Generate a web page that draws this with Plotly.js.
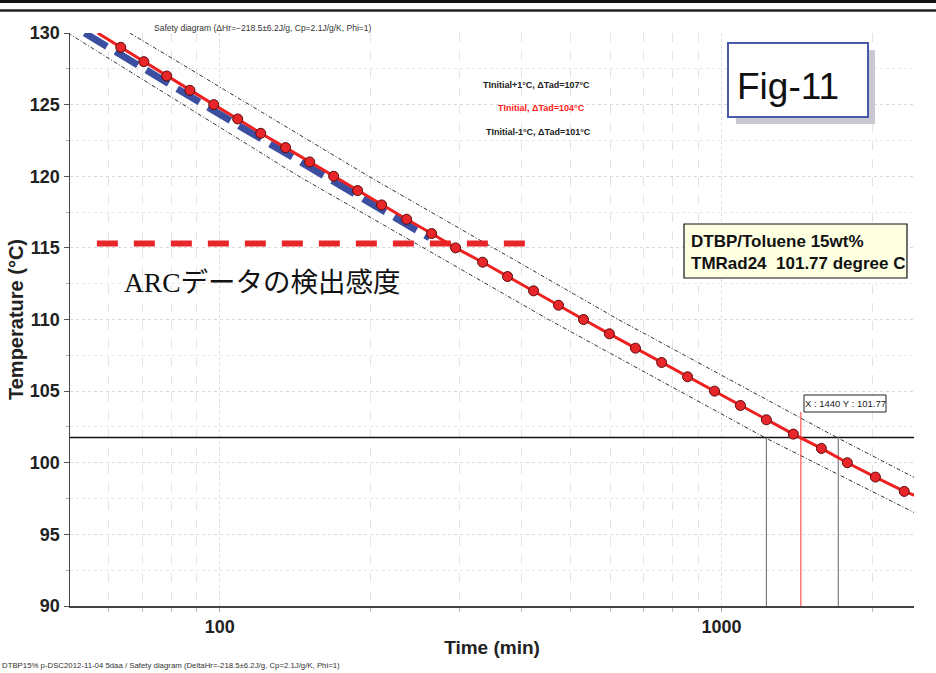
<!DOCTYPE html>
<html>
<head>
<meta charset="utf-8">
<script src="https://cdn.plot.ly/plotly-3.0.1.min.js"></script>
<style>html,body{margin:0;padding:0;background:#fff;}#chart{width:936px;height:673px;}</style>
</head>
<body>
<div id="chart"></div>
<script>
// ---- Data ----
const pointTemp = [129,128,127,126,125,124,123,122,121,120,119,118,117,116,115,114,113,112,111,110,109,108,107,106,105,104,103,102,101,100,99,98];
const pointTime = [63.5,70.6,78.4,87.2,97.3,108.6,120.7,135.3,151.1,168.7,188.3,210.2,235.8,264.5,295.2,334.2,374.7,422.2,473.4,531,598,674,760,856,969,1091,1229,1391,1582,1782,2027,2314];
const curveStartTime = [57.1];
const curveStartTemp = [130];
const curveEndTime = [2440];
const curveEndTemp = [97.7];

const upperTime = [66.2, 198, 623, 1697, 2430];
const upperTemp = [130, 120, 110, 101.77, 98.95];
const lowerTime = [49.8, 143.7, 452, 1218, 2430];
const lowerTemp = [130, 120, 110, 101.77, 96.5];

const blueTime = [53.8, 101.4, 262];
const blueTemp = [130, 124.2, 115.7];

const arcLimitTime = [56.9, 410];
const arcLimitTemp = [115.3, 115.3];

const tmrTemp = 101.77;
const tmrTime = 1440;
const lowBoundTime = 1229;
const highBoundTime = 1710;
const xRange = [50.3, 2420];
const yTicks = [90,95,100,105,110,115,120,125,130];
const xTicks = [100, 1000];
const xMinor = [60,70,80,90,200,300,400,500,600,700,800,900,2000];

// ---- helpers for paper coordinates ----
const L = 70, R = 914, T = 33, B = 606;
const px = x => (x - L) / (R - L);
const py = y => (B - y) / (B - T);

const traces = [
  {x: upperTime, y: upperTemp, mode: 'lines', line: {color: '#333', width: 1, dash: '4px,2px,1px,2px'}, hoverinfo: 'skip'},
  {x: lowerTime, y: lowerTemp, mode: 'lines', line: {color: '#333', width: 1, dash: '4px,2px,1px,2px'}, hoverinfo: 'skip'},
  {x: [xRange[0] * 0.9, xRange[1] * 1.1], y: [tmrTemp, tmrTemp], mode: 'lines', line: {color: '#111', width: 1.5}},
  {x: [lowBoundTime, lowBoundTime], y: [90, tmrTemp], mode: 'lines', line: {color: '#666', width: 1}},
  {x: [highBoundTime, highBoundTime], y: [90, tmrTemp], mode: 'lines', line: {color: '#888', width: 1.3}},
  {x: [tmrTime, tmrTime], y: [90, 103.55], mode: 'lines', line: {color: '#ff3030', width: 1}},
  {x: arcLimitTime, y: arcLimitTemp, mode: 'lines', line: {color: '#e8262a', width: 6, dash: '21px,16px'}},
  {x: blueTime, y: blueTemp, mode: 'lines', line: {color: '#3b4ea0', width: 7, dash: '26px,10px'}},
  {x: curveStartTime.concat(pointTime, curveEndTime), y: curveStartTemp.concat(pointTemp, curveEndTemp), mode: 'lines', line: {color: '#ee2020', width: 3}},
  {x: pointTime, y: pointTemp, mode: 'markers', marker: {color: '#e8262a', size: 10, line: {color: '#5a0a0a', width: 1}}}
];

const tickFont = {family: 'Liberation Sans, Arial, sans-serif', size: 18, color: '#222', weight: 'bold'};

const layout = {
  width: 936, height: 673,
  margin: {l: L, r: 936 - R, t: T, b: 673 - B},
  paper_bgcolor: '#fff', plot_bgcolor: '#fff',
  showlegend: false,
  xaxis: {
    type: 'log', range: [Math.log10(xRange[0]), Math.log10(xRange[1])],
    tickmode: 'array', tickvals: xTicks, ticktext: ['100', '1000'],
    ticks: 'outside', ticklen: 4, tickcolor: '#aaa',
    tickfont: tickFont,
    showline: true, linecolor: '#444', linewidth: 1.5,
    showgrid: true, gridcolor: '#dcdcdc', griddash: 'dot', gridwidth: 1,
    minor: {tickvals: xMinor, ticks: 'outside', ticklen: 4, tickcolor: '#bbb', showgrid: true, gridcolor: '#e4e4e4', griddash: 'dash', gridwidth: 1},
    zeroline: false,
    title: {text: 'Time (min)', font: {family: 'Liberation Sans, Arial, sans-serif', size: 19, color: '#222', weight: 'bold'}, standoff: 4},
    automargin: false
  },
  yaxis: {
    range: [90, 130],
    tickmode: 'array', tickvals: yTicks,
    ticks: 'outside', ticklen: 5, tickcolor: '#555',
    tickfont: tickFont,
    showline: true, linecolor: '#444', linewidth: 1.5,
    showgrid: true, gridcolor: '#d8d8d8', griddash: 'dot', gridwidth: 1,
    minor: {dtick: 2.5, tick0: 90, ticks: 'outside', ticklen: 3, tickcolor: '#aaa', showgrid: true, gridcolor: '#e8e8e8', gridwidth: 1},
    zeroline: false,
    title: {text: 'Temperature (°C)', font: {family: 'Liberation Sans, Arial, sans-serif', size: 20, color: '#222', weight: 'bold'}, standoff: 1},
    automargin: false
  },
  shapes: [
    // header rules
    {type: 'rect', xref: 'paper', yref: 'paper', x0: px(0), x1: px(936), y0: py(3), y1: py(0), fillcolor: '#111', line: {width: 0}},
    {type: 'line', xref: 'paper', yref: 'paper', x0: px(0), x1: px(936), y0: py(10.5), y1: py(10.5), line: {color: '#222', width: 2.5}},
    // Fig-11 box (shadow + box)
    {type: 'rect', xref: 'paper', yref: 'paper', x0: px(736), x1: px(875), y0: py(124), y1: py(50), fillcolor: '#c8c8d0', line: {width: 0}},
    {type: 'rect', xref: 'paper', yref: 'paper', x0: px(728), x1: px(868), y0: py(117), y1: py(43), fillcolor: '#ffffff', line: {color: '#4a58a8', width: 2}},
    // DTBP box
    {type: 'rect', xref: 'paper', yref: 'paper', x0: px(684), x1: px(907), y0: py(278), y1: py(224), fillcolor: '#ffffe2', line: {color: '#111', width: 1.2}},
    // X/Y readout box
    {type: 'rect', xref: 'paper', yref: 'paper', x0: px(804), x1: px(886), y0: py(412), y1: py(395), fillcolor: '#ffffff', line: {color: '#222', width: 1}}
  ],
  annotations: [
    {xref: 'paper', yref: 'paper', x: px(152), y: py(28), xanchor: 'left', yanchor: 'middle', showarrow: false,
     text: 'Safety diagram (ΔHr=−218.5±6.2J/g, Cp=2.1J/g/K, Phi=1)', font: {family: 'Liberation Sans Narrow, Liberation Sans, sans-serif', size: 8.5, color: '#333'}},
    {xref: 'paper', yref: 'paper', x: px(536), y: py(85), xanchor: 'center', yanchor: 'middle', showarrow: false,
     text: 'TInitial+1°C, ΔTad=107°C', font: {family: 'Liberation Sans Narrow, Liberation Sans, sans-serif', size: 9, color: '#222', weight: 'bold'}},
    {xref: 'paper', yref: 'paper', x: px(541), y: py(108), xanchor: 'center', yanchor: 'middle', showarrow: false,
     text: 'TInitial, ΔTad=104°C', font: {family: 'Liberation Sans Narrow, Liberation Sans, sans-serif', size: 9, color: '#ff2020', weight: 'bold'}},
    {xref: 'paper', yref: 'paper', x: px(538), y: py(132), xanchor: 'center', yanchor: 'middle', showarrow: false,
     text: 'TInitial-1°C, ΔTad=101°C', font: {family: 'Liberation Sans Narrow, Liberation Sans, sans-serif', size: 9, color: '#222', weight: 'bold'}},
    {xref: 'paper', yref: 'paper', x: px(788), y: py(86), xanchor: 'center', yanchor: 'middle', showarrow: false,
     text: 'Fig-11', font: {family: 'Liberation Sans, Arial, sans-serif', size: 37, color: '#111'}},
    {xref: 'paper', yref: 'paper', x: px(689), y: py(241), xanchor: 'left', yanchor: 'middle', showarrow: false,
     text: 'DTBP/Toluene 15wt%', font: {family: 'Liberation Sans, Arial, sans-serif', size: 17, color: '#111', weight: 'bold'}},
    {xref: 'paper', yref: 'paper', x: px(689), y: py(263), xanchor: 'left', yanchor: 'middle', showarrow: false,
     text: 'TMRad24  101.77 degree C', font: {family: 'Liberation Sans, Arial, sans-serif', size: 17, color: '#111', weight: 'bold'}},
    {xref: 'paper', yref: 'paper', x: px(845), y: py(403.5), xanchor: 'center', yanchor: 'middle', showarrow: false,
     text: 'X : 1440 Y : 101.77', font: {family: 'Liberation Sans Narrow, Liberation Sans, sans-serif', size: 9.5, color: '#222'}},
    {xref: 'paper', yref: 'paper', x: px(122), y: py(282), xanchor: 'left', yanchor: 'middle', showarrow: false,
     text: 'ARCデータの検出感度', font: {family: 'Liberation Serif, Noto Sans CJK JP, serif', size: 27.5, color: '#111'}},
    {xref: 'paper', yref: 'paper', x: px(0), y: py(666), xanchor: 'left', yanchor: 'middle', showarrow: false,
     text: 'DTBP15% p-DSC2012-11-04 5daa / Safety diagram (DeltaHr=-218.5±6.2J/g, Cp=2.1J/g/K, Phi=1)', font: {family: 'Liberation Sans Narrow, Liberation Sans, sans-serif', size: 7.8, color: '#333'}}
  ]
};

Plotly.newPlot('chart', traces, layout, {displayModeBar: false, staticPlot: true});
</script>
</body>
</html>
